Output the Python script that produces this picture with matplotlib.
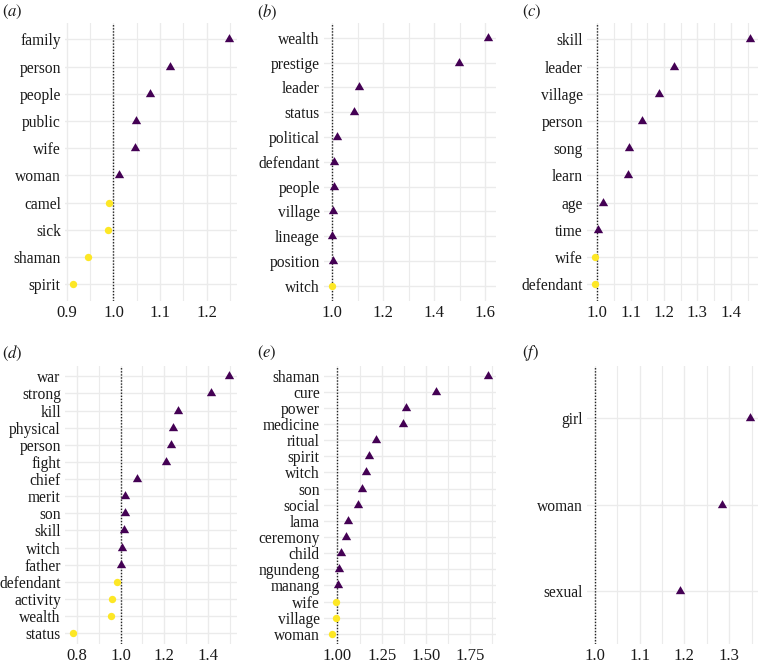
import numpy as np
import matplotlib
matplotlib.use("Agg")
import matplotlib.pyplot as plt
from matplotlib.path import Path

plt.rcParams['font.family'] = ['Liberation Serif', 'DejaVu Serif']
plt.rcParams['mathtext.fontset'] = 'stix'

# panel data: words (top to bottom) and their ratios
words_a = ["family", "person", "people", "public", "wife", "woman", "camel", "sick", "shaman", "spirit"]
vals_a = [1.248, 1.121, 1.078, 1.049, 1.047, 1.013, 0.991, 0.988, 0.946, 0.913]

words_b = ["wealth", "prestige", "leader", "status", "political", "defendant", "people", "village",
           "lineage", "position", "witch"]
vals_b = [1.611, 1.497, 1.106, 1.084, 1.020, 1.009, 1.007, 1.002, 1.001, 1.002, 0.999]

words_c = ["skill", "leader", "village", "person", "song", "learn", "age", "time", "wife", "defendant"]
vals_c = [1.458, 1.230, 1.184, 1.135, 1.094, 1.093, 1.017, 1.004, 0.995, 0.993]

words_d = ["war", "strong", "kill", "physical", "person", "fight", "chief", "merit", "son", "skill",
           "witch", "father", "defendant", "activity", "wealth", "status"]
vals_d = [1.497, 1.414, 1.261, 1.239, 1.230, 1.209, 1.077, 1.021, 1.018, 1.017, 1.006, 1.002,
          0.982, 0.959, 0.956, 0.781]

words_e = ["shaman", "cure", "power", "medicine", "ritual", "spirit", "witch", "son", "social", "lama",
           "ceremony", "child", "ngundeng", "manang", "wife", "village", "woman"]
vals_e = [1.852, 1.556, 1.386, 1.369, 1.215, 1.181, 1.160, 1.136, 1.115, 1.060, 1.051, 1.019,
          1.011, 1.002, 0.994, 0.991, 0.968]

words_f = ["girl", "woman", "sexual"]
vals_f = [1.347, 1.284, 1.190]

panels = [
    ("a", words_a, vals_a, 0.1, 0.05),
    ("b", words_b, vals_b, 0.2, 0.1),
    ("c", words_c, vals_c, 0.1, 0.05),
    ("d", words_d, vals_d, 0.2, 0.1),
    ("e", words_e, vals_e, 0.25, 0.125),
    ("f", words_f, vals_f, 0.1, 0.05),
]

purple = "#440154"
yellow = "#FDE725"
grid_col = "#EBEBEB"

# equilateral triangle like ggplot shape 17
tri = Path([(-1, -0.577), (1, -0.577), (0, 1.155), (-1, -0.577)],
           [Path.MOVETO, Path.LINETO, Path.LINETO, Path.CLOSEPOLY])

W, H = 758, 665
fig = plt.figure(figsize=(W / 100, H / 100), dpi=100)

col_x = [(65, 237), (324, 496), (587, 758)]
row_y = [(23, 300.5), (366, 643.5)]
lab_x = [2, 257, 522]
lab_y = [12, 353]

for i, (lab, words, vals, major, minor) in enumerate(panels):
    r, c = divmod(i, 3)
    x0, x1 = col_x[c]
    yt, yb = row_y[r]
    ax = fig.add_axes([x0 / W, 1 - yb / H, (x1 - x0) / W, (yb - yt) / H])
    n = len(words)
    ypos = np.arange(n)[::-1]
    vals = np.array(vals)
    above = vals >= 1.0
    ax.scatter(vals[above], ypos[above], marker=tri, s=60, color=purple, zorder=3, linewidths=0)
    ax.scatter(vals[~above], ypos[~above], marker='o', s=28, color=yellow, zorder=3, linewidths=0)
    ax.axvline(1.0, color="#222222", linestyle=(0, (1, 1.2)), linewidth=1.0, zorder=2)

    lo = min(vals.min(), 1.0)
    hi = max(vals.max(), 1.0)
    pad = (hi - lo) * 0.05
    ax.set_xlim(lo - pad, hi + pad)
    ax.set_ylim(-0.6, n - 1 + 0.6)

    ticks = np.arange(np.floor(lo / major) * major, hi + pad + 1e-9, major)
    ticks = ticks[(ticks >= lo - pad - 1e-9)]
    ax.set_xticks(ticks)
    mticks = np.arange(np.floor(lo / minor) * minor, hi + pad + 1e-9, minor)
    mticks = mticks[(mticks >= lo - pad - 1e-9)]
    ax.set_xticks(mticks, minor=True)
    if lab == "e":
        ax.set_xticklabels(["%.2f" % t for t in ticks])
    else:
        ax.set_xticklabels(["%.1f" % t for t in ticks])
    ax.set_yticks(ypos)
    ax.set_yticklabels(words)

    ax.grid(True, which="major", color=grid_col, linewidth=1.0, zorder=0)
    ax.grid(True, which="minor", axis="x", color=grid_col, linewidth=0.8, zorder=0)
    ax.set_axisbelow(True)
    for s in ax.spines.values():
        s.set_visible(False)
    ax.tick_params(which="both", length=0, colors="#1a1a1a")
    ax.tick_params(axis="y", labelsize=11.2, pad=3)
    ax.tick_params(axis="x", labelsize=12, pad=3)

    fig.text(lab_x[c] / W, 1 - lab_y[r] / H, r"$(%s)$" % lab, fontsize=12,
             ha="left", va="center", color="#1a1a1a")

fig.savefig("out.png", dpi=100)
